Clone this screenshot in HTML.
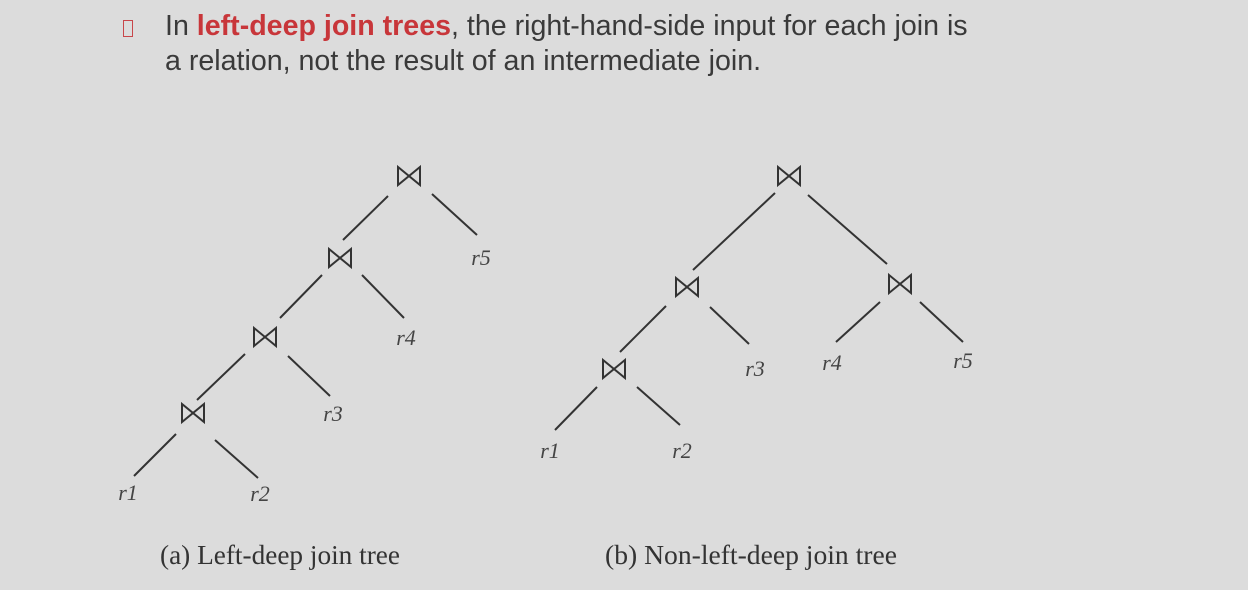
<!DOCTYPE html>
<html><head><meta charset="utf-8"><style>
body{margin:0;width:1248px;height:590px;background:#dcdcdc;overflow:hidden;font-family:"Liberation Sans",sans-serif}
.t{position:absolute;left:165px;font-size:28.6px;color:#3a3a3a;white-space:nowrap}
.r{color:#c8363a;font-weight:bold}
</style></head><body>
<div style="position:absolute;left:123px;top:20px;width:8px;height:15px;border:1.5px solid #c8464a"></div>
<div class="t" style="top:10px">In <span class="r">left-deep join trees</span>, the right-hand-side input for each join is</div>
<div class="t" style="top:45px">a relation, not the result of an intermediate join.</div>
<svg width="1248" height="590" style="position:absolute;left:0;top:0">
<defs><path id="bt" d="M-11,-9 L-11,9 L11,-9 L11,9 Z" fill="none" stroke="#333" stroke-width="2"/></defs>
<g stroke="#333" stroke-width="2">
<line x1="388" y1="196" x2="343" y2="240"/><line x1="432" y1="194" x2="477" y2="235"/>
<line x1="322" y1="275" x2="280" y2="318"/><line x1="362" y1="275" x2="404" y2="318"/>
<line x1="245" y1="354" x2="197" y2="400"/><line x1="288" y1="356" x2="330" y2="396"/>
<line x1="176" y1="434" x2="134" y2="476"/><line x1="215" y1="440" x2="258" y2="478"/>
<line x1="775" y1="193" x2="693" y2="270"/><line x1="808" y1="195" x2="887" y2="264"/>
<line x1="666" y1="306" x2="620" y2="352"/><line x1="710" y1="307" x2="749" y2="344"/>
<line x1="880" y1="302" x2="836" y2="342"/><line x1="920" y1="302" x2="963" y2="342"/>
<line x1="597" y1="387" x2="555" y2="430"/><line x1="637" y1="387" x2="680" y2="425"/>
</g>
<use href="#bt" x="409" y="176"/><use href="#bt" x="340" y="258"/><use href="#bt" x="265" y="337"/><use href="#bt" x="193" y="413"/>
<use href="#bt" x="789" y="176"/><use href="#bt" x="687" y="287"/><use href="#bt" x="900" y="284"/><use href="#bt" x="614" y="369"/>
<g font-family="Liberation Serif,serif" font-style="italic" font-size="22" fill="#444" text-anchor="middle">
<text x="128" y="500">r1</text><text x="260" y="501">r2</text><text x="333" y="421">r3</text><text x="406" y="345">r4</text><text x="481" y="265">r5</text>
<text x="550" y="458">r1</text><text x="682" y="458">r2</text><text x="755" y="376">r3</text><text x="832" y="370">r4</text><text x="963" y="368">r5</text>
</g>
<g font-family="Liberation Serif,serif" font-size="27" fill="#333">
<text x="160" y="564" textLength="240" lengthAdjust="spacingAndGlyphs">(a) Left-deep join tree</text><text x="605" y="564" textLength="292" lengthAdjust="spacingAndGlyphs">(b) Non-left-deep join tree</text>
</g>
</svg>
</body></html>
